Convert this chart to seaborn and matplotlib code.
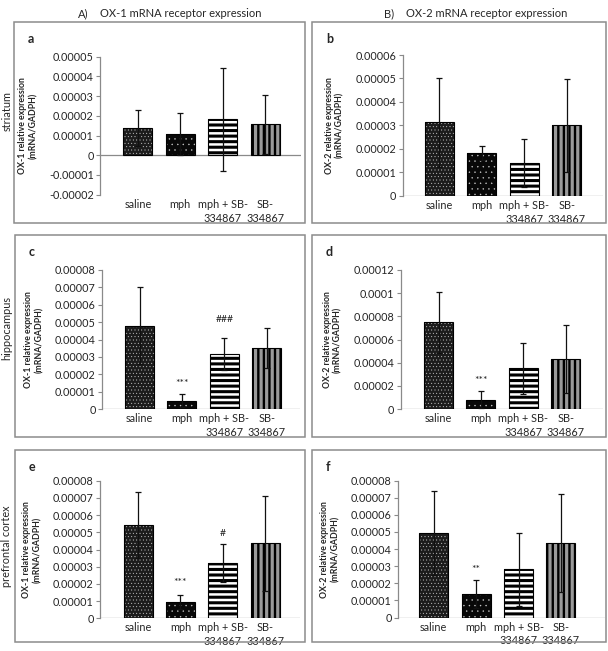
import numpy as np
import pandas as pd
import matplotlib
matplotlib.use("Agg")
import matplotlib.pyplot as plt
import seaborn as sns
from matplotlib.patches import Rectangle
from matplotlib.ticker import FuncFormatter

# ---------------- data ----------------
groups = ["saline", "mph", "mph + SB-\n334867", "SB-\n334867"]

ox1_striatum = [1.38e-5, 1.06e-5, 1.82e-5, 1.58e-5]
ox1_striatum_err = [0.93e-5, 1.06e-5, 2.60e-5, 1.50e-5]
ox2_striatum = [3.14e-5, 1.83e-5, 1.38e-5, 3.00e-5]
ox2_striatum_err = [1.90e-5, 0.30e-5, 1.02e-5, 1.99e-5]

ox1_hippocampus = [4.80e-5, 0.48e-5, 3.16e-5, 3.53e-5]
ox1_hippocampus_err = [2.20e-5, 0.36e-5, 0.93e-5, 1.16e-5]
ox2_hippocampus = [7.48e-5, 0.80e-5, 3.50e-5, 4.30e-5]
ox2_hippocampus_err = [2.64e-5, 0.72e-5, 2.22e-5, 2.95e-5]

ox1_pfc = [5.43e-5, 0.93e-5, 3.22e-5, 4.35e-5]
ox1_pfc_err = [1.93e-5, 0.40e-5, 1.12e-5, 2.77e-5]
ox2_pfc = [4.96e-5, 1.38e-5, 2.83e-5, 4.36e-5]
ox2_pfc_err = [2.45e-5, 0.83e-5, 2.13e-5, 2.84e-5]

# significance marks: (panel, group index, text)
sig_marks = [("c", 1, "***"), ("c", 2, "###"), ("d", 1, "***"),
             ("e", 1, "***"), ("e", 2, "#"), ("f", 1, "**")]
sig_offsets_px = {("c", 1): 11, ("c", 2): 18, ("d", 1): 11,
                  ("e", 1): 13, ("e", 2): 10, ("f", 1): 10}

column_titles = ["OX-1 mRNA receptor expression", "OX-2 mRNA receptor expression"]
column_tags = ["A)", "B)"]
row_labels = ["striatum", "hippocampus", "prefrontal cortex"]
ylabels = ["OX-1 relative expression\n(mRNA/GADPH)", "OX-2 relative expression\n(mRNA/GADPH)"]

# ---------------- style ----------------
sns.set_style("white")
plt.rcParams["font.family"] = ["Lato", "DejaVu Sans"]
plt.rcParams["hatch.linewidth"] = 1.0

W, H = 608, 651
fig = plt.figure(figsize=(W / 100, H / 100), dpi=100)
AXIS_GRAY = "#8a8a8a"


def rect_px(l, t, r, b):
    return [l / W, 1 - b / H, (r - l) / W, (b - t) / H]


# panel boxes (pixels: left, top, right, bottom)
boxes = {"a": (14, 22, 305, 223), "b": (312, 22, 606, 223),
         "c": (15, 235, 305, 437), "d": (312, 235, 606, 437),
         "e": (15, 450, 305, 642), "f": (312, 450, 606, 642)}
for key, (l, t, r, b) in boxes.items():
    fig.patches.append(Rectangle((l / W, 1 - b / H), (r - l) / W, (b - t) / H,
                                 transform=fig.transFigure, fill=False,
                                 edgecolor="#8c8c8c", linewidth=1.1))

# axes layout: x0, ytop, x1, ybottom, first bar center px
layout = {"a": (100, 56.7, 301, 194.7, 137.8),
          "b": (402.7, 55, 602.7, 195.7, 439.5),
          "c": (102, 270, 300, 409, 139.5),
          "d": (400.7, 270, 603, 409, 438.5),
          "e": (100, 480.7, 300, 618.3, 138),
          "f": (398, 480.7, 605, 617.5, 433.7)}
SPACING = 42.4
BAR_W = 29 / SPACING

panels = {
    "a": (ox1_striatum, ox1_striatum_err, (-2e-5, 5e-5), 1e-5, 0),
    "b": (ox2_striatum, ox2_striatum_err, (0, 6e-5), 1e-5, 1),
    "c": (ox1_hippocampus, ox1_hippocampus_err, (0, 8e-5), 1e-5, 0),
    "d": (ox2_hippocampus, ox2_hippocampus_err, (0, 1.2e-4), 2e-5, 1),
    "e": (ox1_pfc, ox1_pfc_err, (0, 8e-5), 1e-5, 0),
    "f": (ox2_pfc, ox2_pfc_err, (0, 8e-5), 1e-5, 1),
}

face_colors = ["#1c1c1c", "#080808", "#ffffff", "#9a9a9a"]
hatch_styles = [(".....", "#d8d8d8", 0.25), ("...", "#cfcfcf", 0.25),
                ("---", "#000000", 2.2), ("|||", "#000000", 1.7)]


def fmt(v, pos):
    if abs(v) < 1e-12:
        return "0"
    return f"{v:.5f}".rstrip("0").rstrip(".")


for key, (vals, errs, ylim, step, col) in panels.items():
    x0, yt, x1, yb, c0 = layout[key]
    ax = fig.add_axes(rect_px(x0, yt, x1, yb))
    df = pd.DataFrame({"group": groups, "value": vals})

    ax.axhline(0, color=AXIS_GRAY, linewidth=0.9, zorder=0.5)

    sns.barplot(data=df, x="group", y="value", hue="group", order=groups,
                hue_order=groups, palette=face_colors, legend=False,
                errorbar=None, width=BAR_W, linewidth=0, ax=ax, zorder=2)
    for p, (hatch, hcol, hlw) in zip(ax.patches, hatch_styles):
        p.set_hatch(hatch)
        p.set_edgecolor(hcol)
        p.set_linewidth(0)
        if hasattr(p, "set_hatch_linewidth"):
            p.set_hatch_linewidth(hlw)
    sns.barplot(data=df, x="group", y="value", order=groups, fill=False,
                color="black", errorbar=None, width=BAR_W, linewidth=0.8,
                ax=ax, zorder=3)
    for p in ax.patches[4:]:
        p.set_edgecolor("black")

    ax.errorbar(np.arange(len(groups)), vals, yerr=errs, fmt="none",
                ecolor="#111111", elinewidth=0.9, capsize=2.2, capthick=0.9,
                zorder=5)

    for (pk, gi, txt) in sig_marks:
        if pk == key:
            ax.annotate(txt, xy=(gi, vals[gi] + errs[gi]),
                        xytext=(0, sig_offsets_px[(pk, gi)] * 0.72),
                        textcoords="offset points", ha="center", va="center",
                        fontsize=7.5, color="#222222")

    ax.set_xlim((x0 - c0) / SPACING, (x1 - c0) / SPACING)
    ax.set_ylim(*ylim)
    n = int(round((ylim[1] - ylim[0]) / step))
    ax.set_yticks(np.linspace(ylim[0], ylim[1], n + 1))
    ax.yaxis.set_major_formatter(FuncFormatter(fmt))

    for s in ("top", "right", "bottom"):
        ax.spines[s].set_visible(False)
    ax.spines["left"].set_color(AXIS_GRAY)
    ax.spines["left"].set_linewidth(0.9)
    ax.tick_params(axis="y", direction="out", length=2.6, width=0.8,
                   color=AXIS_GRAY, labelsize=7.8, pad=2, left=True)
    ax.tick_params(axis="x", length=0, labelsize=7.8, pad=3)
    for lab in ax.get_xticklabels():
        lab.set_linespacing(1.3)
    ax.set_xlabel("")
    ax.set_ylabel(ylabels[col], fontsize=6.3, fontweight="bold", labelpad=8,
                  linespacing=1.2)

    # panel letter
    l, t, r, b = boxes[key]
    fig.text((l + 14) / W, 1 - (t + 17) / H, key, fontsize=9,
             fontweight="bold", ha="left", va="center")

# row labels
for lab, yc in zip(row_labels, [111, 328, 546]):
    fig.text(7 / W, 1 - yc / H, lab, rotation=90, ha="center", va="center",
             fontsize=7.8)

# column titles
for tag, title, xt, xm in zip(column_tags, column_titles, [78, 384], [100, 405.7]):
    fig.text(xt / W, 1 - 13.5 / H, tag, ha="left", va="center", fontsize=8)
    fig.text(xm / W, 1 - 13.5 / H, title, ha="left", va="center", fontsize=8)

fig.savefig("out.png", dpi=100, facecolor="white")
